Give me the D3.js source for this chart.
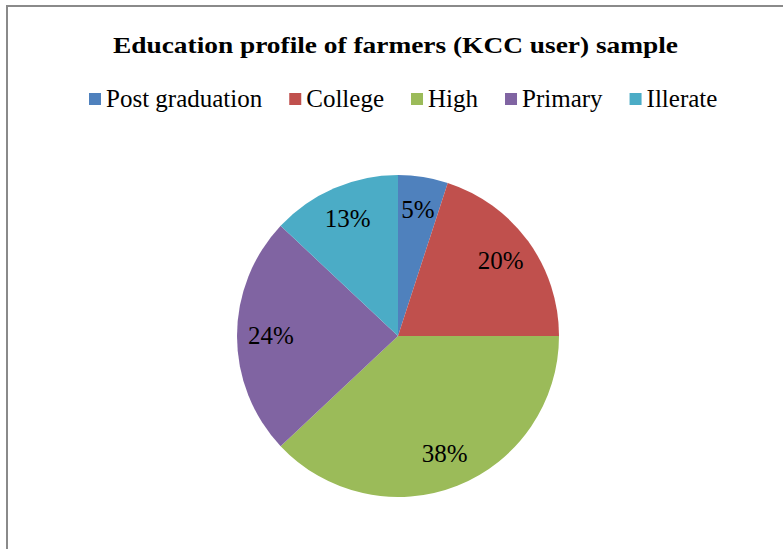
<!DOCTYPE html>
<html>
<head>
<meta charset="utf-8">
<script src="https://cdn.jsdelivr.net/npm/d3@7"></script>
<style>
body { margin: 0; background: #fff; }
svg { display: block; }
</style>
</head>
<body>
<svg class="chart"></svg>
<script>
var WIDTH = 783, HEIGHT = 549;
var CX = 398, CY = 336, RADIUS = 161, LABEL_R = 127;

var categories = ["Post graduation", "College", "High", "Primary", "Illerate"];
var values = [5, 20, 38, 24, 13];
var colors = ["#4F81BD", "#C0504D", "#9BBB59", "#8064A2", "#4BACC6"];
var title = "Education profile of farmers (KCC user) sample";

var svg = d3.select(".chart").attr("width", WIDTH).attr("height", HEIGHT);

// chart area frame (only left and top edges show)
svg.append("path")
	.attr("d", "M7,549 V6 H783")
	.attr("fill", "none").attr("stroke", "#8a8a8a").attr("stroke-width", 2);

svg.append("text")
	.attr("x", 113).attr("y", 53)
	.attr("font-family", "Liberation Serif").attr("font-weight", "bold").attr("font-size", 24)
	.attr("textLength", 565).attr("lengthAdjust", "spacingAndGlyphs")
	.text(title);

// legend
var color = d3.scaleOrdinal().domain(categories).range(colors);
var legend = svg.append("g");
var lx = 89;
categories.forEach( (c, i) => {
	var g = legend.append("g").attr("transform", "translate(" + lx + ",93)");
	g.append("rect").attr("width", 12).attr("height", 12).attr("fill", color(c));
	var t = g.append("text").attr("x", 17).attr("y", 14)
		.attr("font-family", "Liberation Serif").attr("font-size", 25)
		.text(c);
	lx += 17 + t.node().getComputedTextLength() + 27;
});

// pie
var pie = d3.pie().sort(null).value( d => d );
var arc = d3.arc().innerRadius(0).outerRadius(RADIUS);
var labelArc = d3.arc().innerRadius(LABEL_R).outerRadius(LABEL_R);

var slices = svg.append("g").attr("transform", "translate(" + CX + "," + CY + ")")
	.selectAll("g").data( pie(values) ).enter().append("g");

slices.append("path").attr("d", arc).attr("fill", (d, i) => color(categories[i]));

var total = d3.sum(values);
slices.append("text")
	.attr("transform", d => "translate(" + labelArc.centroid(d) + ")")
	.attr("text-anchor", "middle").attr("dy", "0.3em")
	.attr("font-family", "Liberation Serif").attr("font-size", 25)
	.text( d => Math.round(d.value / total * 100) + "%" );
</script>
</body>
</html>
